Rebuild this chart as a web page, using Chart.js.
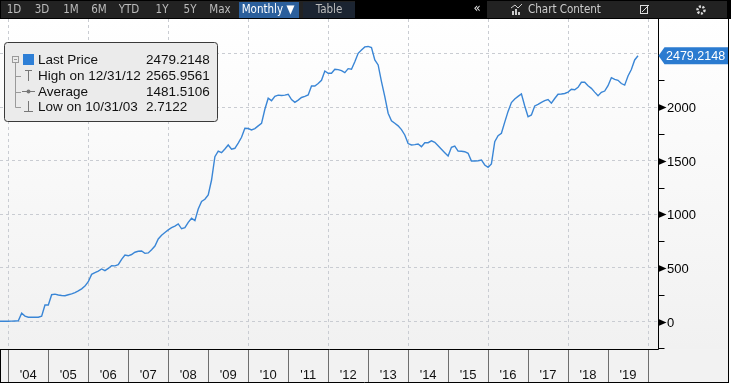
<!DOCTYPE html>
<html>
<head>
<meta charset="utf-8">
<script src="https://cdn.jsdelivr.net/npm/chart.js@4/dist/chart.umd.min.js"></script>
<style>
  html, body { margin: 0; padding: 0; background: #fff; }
  #chart { display: block; }
</style>
</head>
<body>
<canvas id="chart" width="731" height="387"></canvas>
<script>
/* ======================================================
    DATA
====================================================== */
// monthly closes, first value = Sep 2003 (3 months before the '04 column)
const firstMonthOffset = -3;
const lastPrice = [
    3, 2.7122, 3, 3,
    4, 5, 6, 77, 50, 40, 39, 39, 40, 50, 154, 154,
    250, 255, 247, 243, 241, 250, 257, 270, 285, 305, 330, 371,
    440, 455, 470, 490, 474, 495, 521, 519, 530, 580, 620, 613,
    625, 646, 655, 658, 636, 640, 670, 704, 770, 805, 830, 855,
    875, 890, 910, 865, 875, 925, 963, 941, 1050, 1120, 1140, 1180,
    1320, 1538, 1590, 1575, 1610, 1647, 1607, 1616, 1665, 1719, 1803, 1800,
    1787, 1800, 1825, 1849, 1980, 2083, 2060, 2100, 2112, 2108, 2112, 2120,
    2070, 2044, 2065, 2090, 2100, 2113, 2197, 2197, 2220, 2250, 2337, 2316,
    2316, 2353, 2350, 2340, 2321, 2359, 2354, 2424, 2502, 2533, 2562, 2565.9561,
    2555, 2440, 2393, 2237, 2097, 1943, 1873, 1850, 1825, 1790, 1740, 1660,
    1647, 1650, 1656, 1631, 1668, 1668, 1685, 1672, 1640, 1607, 1575, 1544,
    1625, 1637, 1590, 1588, 1584, 1569, 1497, 1497, 1500, 1507, 1460, 1438,
    1470, 1678, 1734, 1756, 1860, 1960, 2042, 2075, 2100, 2123, 2011, 1910,
    1927, 2011, 2025, 2045, 2060, 2070, 2036, 2080, 2120, 2123, 2127, 2140,
    2166, 2162, 2185, 2232, 2232, 2200, 2175, 2140, 2107, 2138, 2150, 2200,
    2275, 2258, 2250, 2220, 2205, 2290, 2350, 2440, 2479.2148
];
const yearLabels = ["'04", "'05", "'06", "'07", "'08", "'09", "'10", "'11", "'12", "'13", "'14", "'15", "'16", "'17", "'18", "'19"];
const yTickLabels = [0, 500, 1000, 1500, 2000];
const yGridValues = [0, 500, 1000, 1500, 2000, 2500];
const xGridMonths = [0, 24, 48, 72, 96, 120, 144, 168, 192];
const legendNames = ['Last Price', 'High on 12/31/12', 'Average', 'Low on 10/31/03'];
const legendValues = ['2479.2148', '2565.9561', '1481.5106', '2.7122'];
const lastLabel = '2479.2148';
const toolbarItems = ['1D', '3D', '1M', '6M', 'YTD', '1Y', '5Y', 'Max'];

const BLUE = '#3a86d6';
const FONT = '"Liberation Sans", Arial, sans-serif';
const NARROW = '"DejaVu Sans Condensed", "Liberation Sans Narrow", sans-serif';

/* ======================================================
    CHROME PLUGIN (toolbar, legend, axes)
====================================================== */
function drawToolbar(ctx) {
    ctx.fillStyle = '#000';
    ctx.fillRect(0, 0, 731, 19);
    ctx.fillStyle = '#222';
    ctx.fillRect(1, 1, 354, 17);
    ctx.fillRect(487, 1, 240, 17);

    ctx.font = '11.5px ' + NARROW;
    ctx.textBaseline = 'middle';
    ctx.textAlign = 'center';
    ctx.fillStyle = '#bcbcbc';
    const xs = [14, 42, 71, 99, 129, 162, 190, 220];
    toolbarItems.forEach((t, i) => ctx.fillText(t, xs[i], 10));

    ctx.fillStyle = '#2b5f9c';
    ctx.fillRect(239, 2, 60, 16);
    ctx.fillStyle = '#fff';
    ctx.fillText('Monthly \u25BC', 268, 10);

    ctx.fillStyle = '#1b2431';
    ctx.fillRect(303, 2, 52, 16);
    ctx.fillStyle = '#bcbcbc';
    ctx.fillText('Table', 329, 10);

    ctx.fillStyle = '#e8e8e8';
    ctx.font = '13px ' + NARROW;
    ctx.fillText('\u00AB', 477, 9);
    ctx.font = '11.5px ' + NARROW;

    // chart content icon
    ctx.fillStyle = '#ccc';
    ctx.fillRect(512, 11, 2, 4);
    ctx.fillRect(515, 9, 2, 6);
    ctx.fillRect(518, 12, 2, 3);
    ctx.strokeStyle = '#ccc';
    ctx.lineWidth = 1;
    ctx.beginPath();
    ctx.moveTo(511, 8); ctx.lineTo(515, 5); ctx.lineTo(518, 8); ctx.lineTo(522, 4);
    ctx.stroke();
    ctx.textAlign = 'left';
    ctx.fillText('Chart Content', 528, 10);

    // edit icon
    ctx.strokeStyle = '#ddd';
    ctx.strokeRect(640.5, 5.5, 7, 8);
    ctx.beginPath();
    ctx.moveTo(642, 12); ctx.lineTo(649, 5);
    ctx.stroke();

    // gear
    ctx.beginPath();
    ctx.arc(701, 10, 3.5, 0, Math.PI * 2);
    ctx.lineWidth = 2.5;
    ctx.setLineDash([2, 1.5]);
    ctx.stroke();
    ctx.setLineDash([]);
    ctx.lineWidth = 1;
}

function drawLegend(ctx) {
    const x0 = 4.5, y0 = 42.5, w = 213, h = 79, r = 3;
    ctx.beginPath();
    ctx.moveTo(x0 + r, y0);
    ctx.arcTo(x0 + w, y0, x0 + w, y0 + h, r);
    ctx.arcTo(x0 + w, y0 + h, x0, y0 + h, r);
    ctx.arcTo(x0, y0 + h, x0, y0, r);
    ctx.arcTo(x0, y0, x0 + w, y0, r);
    ctx.closePath();
    ctx.fillStyle = '#ebebeb';
    ctx.fill();
    ctx.strokeStyle = '#3a3a3a';
    ctx.lineWidth = 1;
    ctx.stroke();

    const rows = [59.5, 75.5, 91.5, 107];
    // tree lines
    ctx.strokeStyle = '#9a9a9a';
    ctx.beginPath();
    ctx.moveTo(15.5, 63); ctx.lineTo(15.5, 107.5);
    rows.slice(1).forEach(y => { ctx.moveTo(15.5, Math.round(y) + 0.5); ctx.lineTo(21, Math.round(y) + 0.5); });
    ctx.stroke();
    ctx.strokeRect(12.5, 56.5, 6, 6);
    ctx.beginPath();
    ctx.moveTo(14, 59.5); ctx.lineTo(17, 59.5);
    ctx.stroke();

    ctx.fillStyle = '#2e7fd6';
    ctx.fillRect(23, 54, 11, 11);

    // high marker
    ctx.strokeStyle = '#777';
    ctx.beginPath();
    ctx.moveTo(25, 70.5); ctx.lineTo(32, 70.5);
    ctx.moveTo(28.5, 70.5); ctx.lineTo(28.5, 81);
    // average marker
    ctx.moveTo(22, 91.5); ctx.lineTo(35, 91.5);
    // low marker
    ctx.moveTo(28.5, 101); ctx.lineTo(28.5, 111.5);
    ctx.moveTo(24, 111.5); ctx.lineTo(33, 111.5);
    ctx.stroke();
    ctx.fillStyle = '#777';
    ctx.beginPath();
    ctx.arc(28.5, 91.5, 2, 0, Math.PI * 2);
    ctx.fill();

    ctx.font = '13.5px ' + FONT;
    ctx.fillStyle = '#111';
    ctx.textAlign = 'left';
    ctx.textBaseline = 'middle';
    legendNames.forEach((t, i) => ctx.fillText(t, 38, rows[i] + 0.5));
    legendValues.forEach((t, i) => ctx.fillText(t, 146, rows[i] + 0.5));
}

const chromePlugin = {
    id: 'chrome',
    beforeDraw(chart) {
        const ctx = chart.ctx;
        const area = chart.chartArea;
        ctx.save();
        ctx.fillStyle = '#fff';
        ctx.fillRect(0, 0, 731, 387);
        const g = ctx.createLinearGradient(0, area.top, 0, area.bottom);
        g.addColorStop(0, '#ffffff');
        g.addColorStop(1, '#f1f1f1');
        ctx.fillStyle = g;
        ctx.fillRect(0, area.top, 729, area.bottom - area.top);
        ctx.fillStyle = '#f2f2f2';
        ctx.fillRect(0, area.bottom, 729, 34);
        ctx.restore();
    },
    afterDraw(chart) {
        const ctx = chart.ctx;
        const area = chart.chartArea;
        const xs = chart.scales.x;
        const ys = chart.scales.y;
        ctx.save();
        drawToolbar(ctx);

        // frame lines
        ctx.strokeStyle = '#000';
        ctx.lineWidth = 1;
        ctx.beginPath();
        const ax = Math.round(area.right) + 0.5;
        ctx.moveTo(ax, area.top); ctx.lineTo(ax, area.bottom + 0.5);
        ctx.moveTo(0, area.bottom + 0.5); ctx.lineTo(ax, area.bottom + 0.5);
        ctx.moveTo(0.5, area.bottom); ctx.lineTo(0.5, 383);
        ctx.moveTo(0, 382.5); ctx.lineTo(729, 382.5);
        ctx.moveTo(728.5, area.top); ctx.lineTo(728.5, 383);
        ctx.stroke();

        // year cells
        ctx.strokeStyle = '#6e6e6e';
        ctx.beginPath();
        for (let i = 0; i <= yearLabels.length; i++) {
            const px = Math.round(xs.getPixelForValue(i * 12)) + 0.5;
            ctx.moveTo(px, area.bottom + 1); ctx.lineTo(px, 382);
        }
        ctx.stroke();
        ctx.font = '13px ' + FONT;
        ctx.fillStyle = '#111';
        ctx.textAlign = 'center';
        ctx.textBaseline = 'middle';
        yearLabels.forEach((t, i) => {
            const cx = (xs.getPixelForValue(i * 12) + xs.getPixelForValue(i * 12 + 12)) / 2;
            ctx.fillText(t, cx, 375);
        });

        // right axis: minor ticks
        ctx.strokeStyle = '#000';
        ctx.beginPath();
        for (let v = -250; v <= 2250; v += 500) {
            const py = Math.round(ys.getPixelForValue(v)) + 0.5;
            ctx.moveTo(ax, py); ctx.lineTo(ax + 6, py);
        }
        ctx.stroke();
        // major arrows + labels
        ctx.fillStyle = '#000';
        ctx.textAlign = 'left';
        ctx.font = '13px ' + FONT;
        yTickLabels.forEach(v => {
            const py = Math.round(ys.getPixelForValue(v)) + 0.5;
            ctx.beginPath();
            ctx.moveTo(ax, py - 3.5); ctx.lineTo(ax + 8, py); ctx.lineTo(ax, py + 3.5);
            ctx.closePath();
            ctx.fill();
            ctx.fillText(String(v), 667, py + 0.5);
        });

        // last price tag
        const ly = ys.getPixelForValue(lastPrice[lastPrice.length - 1]);
        ctx.fillStyle = '#2b7bd0';
        ctx.beginPath();
        ctx.moveTo(ax, ly);
        ctx.lineTo(ax + 6, ly - 8.5);
        ctx.lineTo(728, ly - 8.5);
        ctx.lineTo(728, ly + 8.5);
        ctx.lineTo(ax + 6, ly + 8.5);
        ctx.closePath();
        ctx.fill();
        ctx.fillStyle = '#fff';
        ctx.font = '12.5px ' + FONT;
        ctx.fillText(lastLabel, 666, ly + 0.5);

        drawLegend(ctx);
        ctx.restore();
    }
};

/* ======================================================
    CHART CONFIG
====================================================== */
const gridStyle = { color: '#c9ccd2', lineWidth: 1, drawTicks: false };

new Chart(document.getElementById('chart').getContext('2d'), {
    type: 'line',
    data: {
        datasets: [{
            label: 'Last Price',
            data: lastPrice.map((v, i) => ({ x: firstMonthOffset + i, y: v })),
            borderColor: BLUE,
            borderWidth: 1.4,
            pointRadius: 0,
            tension: 0,
            fill: false
        }]
    },
    options: {
        responsive: false,
        animation: false,
        events: [],
        layout: { padding: { top: 19, left: 0, right: 0, bottom: 0 } },
        plugins: { legend: { display: false }, tooltip: { enabled: false } },
        scales: {
            x: {
                type: 'linear',
                min: -2.5,
                max: 195,
                grid: gridStyle,
                border: { display: false, dash: [3, 3] },
                ticks: { display: false },
                afterBuildTicks: s => { s.ticks = xGridMonths.map(v => ({ value: v })); },
                afterFit: s => { s.height = 38; }
            },
            y: {
                type: 'linear',
                position: 'right',
                min: -256.5,
                max: 2822,
                grid: gridStyle,
                border: { display: false, dash: [3, 3] },
                ticks: { display: false },
                afterBuildTicks: s => { s.ticks = yGridValues.map(v => ({ value: v })); },
                afterFit: s => { s.width = 73; }
            }
        }
    },
    plugins: [chromePlugin]
});
</script>
</body>
</html>
